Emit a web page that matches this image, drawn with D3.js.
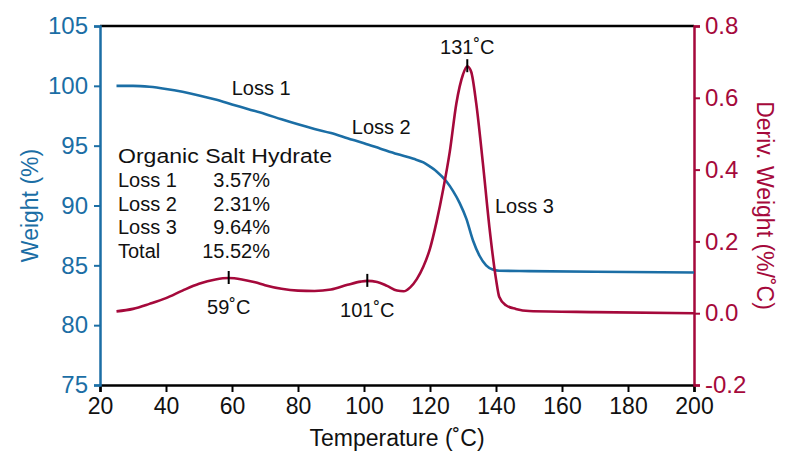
<!DOCTYPE html>
<html>
<head>
<meta charset="utf-8">
<script src="https://cdn.jsdelivr.net/npm/d3@7"></script>
<style>
  html, body { margin: 0; padding: 0; background: #fff; }
  svg { display: block; font-family: "Liberation Sans", Arial, sans-serif; }
</style>
</head>
<body>
<svg id="chart" width="785" height="454"></svg>
<script>
// ---- data ----
const weightTemp = [25, 30, 35, 40, 45, 50, 55, 60, 65, 70, 75, 80, 85, 90, 95, 100, 105, 110, 115, 118, 120, 122, 125, 127, 129, 131, 133, 135, 137, 139, 141, 150, 170, 200];
const weightVals = [100.0, 100.0, 99.92, 99.74, 99.5, 99.2, 98.85, 98.45, 98.05, 97.65, 97.2, 96.78, 96.4, 96.05, 95.62, 95.2, 94.75, 94.3, 93.9, 93.6, 93.25, 92.85, 92.0, 91.2, 90.2, 88.9, 87.1, 85.8, 85.0, 84.65, 84.55, 84.52, 84.46, 84.4];

const derivTemp = [25, 30, 35, 40, 45, 50, 55, 59, 63, 67, 70, 75, 80, 85, 90, 95, 99, 101, 104, 107, 110, 112, 114, 116, 118, 120, 122, 124, 126, 128, 130, 131.3, 132.5, 134, 136, 138, 140, 141, 143, 146, 150, 170, 200];
const derivVals = [0.005, 0.012, 0.026, 0.042, 0.063, 0.082, 0.094, 0.098, 0.094, 0.086, 0.078, 0.068, 0.063, 0.062, 0.066, 0.079, 0.088, 0.090, 0.087, 0.076, 0.063, 0.061, 0.072, 0.095, 0.130, 0.180, 0.255, 0.345, 0.450, 0.585, 0.665, 0.688, 0.672, 0.585, 0.420, 0.240, 0.095, 0.045, 0.022, 0.012, 0.006, 0.003, 0.000];

const xTicks = [20, 40, 60, 80, 100, 120, 140, 160, 180, 200];
const yLeftTicks = [75, 80, 85, 90, 95, 100, 105];
const yRightTicks = [-0.2, 0.0, 0.2, 0.4, 0.6, 0.8];

const peakTemps = [59, 101, 131.3];
const peakLabels = ["59˚C", "101˚C", "131˚C"];

const lossLabels = ["Loss 1", "Loss 2", "Loss 3"];
const lossLabelTemps = [59.9, 96.3, 139.7];
const lossLabelWeights = [99.2, 96.0, 89.4];

const summaryTitle = "Organic Salt Hydrate";
const summaryNames = ["Loss 1", "Loss 2", "Loss 3", "Total"];
const summaryValues = ["3.57%", "2.31%", "9.64%", "15.52%"];

// ---- layout ----
const blue = "#1b6ea5";
const red = "#a5093b";
const svg = d3.select("#chart");
const m = { left: 100, right: 91, top: 26, bottom: 69 };
const W = 785, H = 454;
const FONT = "'Liberation Sans', Arial, sans-serif";

const x = d3.scaleLinear().domain([20, 200]).range([m.left, W - m.right]);
const yL = d3.scaleLinear().domain([75, 105]).range([H - m.bottom, m.top]);
const yR = d3.scaleLinear().domain([-0.2, 0.8]).range([H - m.bottom, m.top]);

// top frame line
svg.append("line")
  .attr("x1", x(20)).attr("x2", x(200))
  .attr("y1", yL(105)).attr("y2", yL(105))
  .attr("stroke", "#000").attr("stroke-width", 2.5);

// bottom axis
const gx = svg.append("g")
  .attr("transform", `translate(0,${H - m.bottom})`)
  .call(d3.axisBottom(x).tickValues(xTicks).tickSize(7).tickPadding(6).tickFormat(d3.format("d")));
gx.select(".domain").attr("stroke", "#000").attr("stroke-width", 2.5);
gx.selectAll(".tick line").attr("stroke", "#000").attr("stroke-width", 2);
gx.selectAll(".tick text").attr("fill", "#111").style("font-size", "23px").style("font-family", FONT);

// left axis
const gl = svg.append("g")
  .attr("transform", `translate(${m.left},0)`)
  .call(d3.axisLeft(yL).tickValues(yLeftTicks).tickSize(6).tickPadding(6).tickFormat(d3.format("d")));
gl.select(".domain").attr("stroke", blue).attr("stroke-width", 2.5);
gl.selectAll(".tick line").attr("stroke", blue).attr("stroke-width", 2);
gl.selectAll(".tick text").attr("fill", blue).style("font-size", "24px").style("font-family", FONT);

// right axis
const fmtR = d => d3.format(".1f")(d).replace("\u2212", "-");
const gr = svg.append("g")
  .attr("transform", `translate(${W - m.right},0)`)
  .call(d3.axisRight(yR).tickValues(yRightTicks).tickSize(6).tickPadding(5).tickFormat(fmtR));
gr.select(".domain").attr("stroke", red).attr("stroke-width", 2.5);
gr.selectAll(".tick line").attr("stroke", red).attr("stroke-width", 2);
gr.selectAll(".tick text").attr("fill", red).style("font-size", "24px").style("font-family", FONT);

// axis titles
svg.append("text")
  .attr("transform", `translate(${(x(20) + x(200)) / 2},446)`)
  .attr("text-anchor", "middle").attr("fill", "#111").style("font-size", "23px")
  .text("Temperature (˚C)");
svg.append("text")
  .attr("transform", `translate(38,${(yL(75) + yL(105)) / 2}) rotate(-90)`)
  .attr("text-anchor", "middle").attr("fill", blue).style("font-size", "23px")
  .text("Weight (%)");
svg.append("text")
  .attr("transform", `translate(757,${(yR(-0.2) + yR(0.8)) / 2}) rotate(90)`)
  .attr("text-anchor", "middle").attr("fill", red).style("font-size", "23px")
  .text("Deriv. Weight (%/˚C)");

// curves
const weightData = weightTemp.map((t, i) => [t, weightVals[i]]);
const derivData = derivTemp.map((t, i) => [t, derivVals[i]]);

svg.append("path").datum(weightData)
  .attr("fill", "none").attr("stroke", blue).attr("stroke-width", 2.6)
  .attr("d", d3.line().x(d => x(d[0])).y(d => yL(d[1])).curve(d3.curveMonotoneX));

svg.append("path").datum(derivData)
  .attr("fill", "none").attr("stroke", red).attr("stroke-width", 2.6)
  .attr("d", d3.line().x(d => x(d[0])).y(d => yR(d[1])).curve(d3.curveMonotoneX));

// peak markers
peakTemps.forEach((t, i) => {
  const v = derivVals[derivTemp.indexOf(t)];
  const px = x(t), py = yR(v);
  svg.append("line")
    .attr("x1", px).attr("x2", px).attr("y1", py - 7).attr("y2", py + 6)
    .attr("stroke", "#000").attr("stroke-width", 2);
  const below = i < 2;
  svg.append("text")
    .attr("x", px).attr("y", below ? py + 36 : py - 12)
    .attr("text-anchor", "middle").attr("fill", "#111").style("font-size", "20px")
    .text(peakLabels[i]);
});

// loss labels
lossLabels.forEach((s, i) => {
  svg.append("text")
    .attr("x", x(lossLabelTemps[i])).attr("y", yL(lossLabelWeights[i]))
    .attr("fill", "#111").style("font-size", "20px")
    .text(s);
});

// summary block
const sx = 118;
svg.append("text").attr("x", sx).attr("y", 163)
  .attr("fill", "#111").style("font-size", "20px").attr("textLength", 214).attr("lengthAdjust", "spacingAndGlyphs")
  .text(summaryTitle);
summaryNames.forEach((s, i) => {
  const yy = 187 + i * 23.5;
  svg.append("text").attr("x", sx).attr("y", yy)
    .attr("fill", "#111").style("font-size", "20px").text(s);
  svg.append("text").attr("x", 270).attr("y", yy)
    .attr("text-anchor", "end").attr("fill", "#111").style("font-size", "20px").text(summaryValues[i]);
});
</script>
</body>
</html>
